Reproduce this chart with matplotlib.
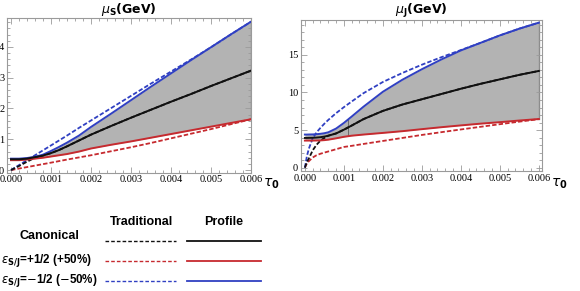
import matplotlib
matplotlib.use('Agg')
import matplotlib.pyplot as plt
from matplotlib.ticker import MultipleLocator, FormatStrFormatter
from matplotlib.lines import Line2D

plt.rcParams['lines.scale_dashes'] = False

# ---------------- data: mu_S (left panel) ----------------
tau_S = [0, 0.0002, 0.0004, 0.0006, 0.0008, 0.001, 0.0012, 0.0014, 0.0017,
         0.002, 0.0025, 0.003, 0.0035, 0.004, 0.0045, 0.005, 0.0055, 0.006]
muS_prof_can = [0.35, 0.35, 0.37, 0.42, 0.47, 0.55, 0.65, 0.77, 0.96,
                1.15, 1.43, 1.70, 1.96, 2.22, 2.47, 2.73, 2.98, 3.23]
muS_prof_up = [0.32, 0.32, 0.34, 0.37, 0.40, 0.44, 0.48, 0.52, 0.60,
               0.70, 0.82, 0.93, 1.05, 1.17, 1.29, 1.41, 1.53, 1.65]
muS_prof_dn = [0.37, 0.37, 0.39, 0.43, 0.50, 0.62, 0.75, 0.89, 1.12,
               1.40, 1.83, 2.27, 2.71, 3.14, 3.57, 3.99, 4.41, 4.82]
muS_trad_can = [0.0, 0.13, 0.27, 0.40, 0.47, 0.55, 0.65, 0.77, 0.96,
                1.15, 1.43, 1.70, 1.96, 2.22, 2.47, 2.73, 2.98, 3.23]
muS_trad_up = [0.0, 0.048, 0.096, 0.144, 0.192, 0.24, 0.29, 0.34, 0.41,
               0.48, 0.61, 0.74, 0.88, 1.03, 1.18, 1.33, 1.49, 1.65]
muS_trad_dn = [0.0, 0.16, 0.32, 0.48, 0.64, 0.80, 0.96, 1.12, 1.37,
               1.61, 2.01, 2.41, 2.81, 3.20, 3.59, 3.99, 4.41, 4.82]

# ---------------- data: mu_J (right panel) ----------------
tau_J = [0, 0.00005, 0.0001, 0.0002, 0.0003, 0.0004, 0.0005, 0.0006, 0.0008,
         0.001, 0.0012, 0.0015, 0.002, 0.0025, 0.003, 0.0035, 0.004,
         0.0045, 0.005, 0.0055, 0.006]
muJ_prof_can = [3.95, 3.95, 3.96, 3.97, 4.0, 4.05, 4.13, 4.25, 4.55,
                5.05, 5.6, 6.45, 7.55, 8.4, 9.1, 9.8, 10.5,
                11.15, 11.75, 12.35, 12.87]
muJ_prof_up = [3.6, 3.6, 3.6, 3.6, 3.61, 3.62, 3.66, 3.72, 3.9,
               4.1, 4.25, 4.4, 4.62, 4.85, 5.12, 5.38, 5.62,
               5.85, 6.05, 6.27, 6.47]
muJ_prof_dn = [4.4, 4.4, 4.41, 4.42, 4.45, 4.5, 4.58, 4.7, 5.2,
               5.95, 6.8, 8.1, 10.1, 11.7, 13.1, 14.4, 15.6,
               16.6, 17.6, 18.5, 19.3]
muJ_trad_can = [0.0, 0.75, 1.2, 2.3, 3.05, 3.6, 3.95, 4.25, 4.55,
                5.05, 5.6, 6.45, 7.55, 8.4, 9.1, 9.8, 10.5,
                11.15, 11.75, 12.35, 12.87]
muJ_trad_up = [0.0, 0.55, 0.85, 1.35, 1.65, 1.85, 2.0, 2.15, 2.45,
               2.75, 2.9, 3.15, 3.55, 3.95, 4.35, 4.72, 5.08,
               5.43, 5.78, 6.12, 6.45]
muJ_trad_dn = [0.0, 1.5, 2.5, 3.9, 4.7, 5.3, 5.85, 6.35, 7.25,
               8.05, 8.8, 9.9, 11.4, 12.6, 13.7, 14.7, 15.65,
               16.6, 17.6, 18.5, 19.3]
tau_J_seam = 0.00111

# ---------------- styles ----------------
BLACK = '#111111'
RED = '#c62a2f'
BLUE = '#3040c2'
FILL = '#b3b3b3'
FRAME = '#9a9a9a'
DASH = (0, (3.2, 1.5))
W = 580.0
H = 291.0

fig = plt.figure(figsize=(5.8, 2.91), dpi=100)
axL = fig.add_axes([7 / W, 1 - 172.5 / H, (251 - 7) / W, (172.5 - 18) / H])
axR = fig.add_axes([301 / W, 1 - 171 / H, (542 - 301) / W, (171 - 20) / H])


def style_axes(ax, ymaj, ymin):
    for s in ax.spines.values():
        s.set_color(FRAME)
        s.set_linewidth(0.8)
    ax.xaxis.set_major_locator(MultipleLocator(0.001))
    ax.xaxis.set_minor_locator(MultipleLocator(0.0002))
    ax.yaxis.set_major_locator(MultipleLocator(ymaj))
    ax.yaxis.set_minor_locator(MultipleLocator(ymin))
    ax.xaxis.set_major_formatter(FormatStrFormatter('%.3f'))
    ax.tick_params(which='both', direction='in', top=True, right=True,
                   color=FRAME, width=0.6, labelsize=7.5, pad=2)
    ax.tick_params(which='major', length=4)
    ax.tick_params(which='minor', length=2)
    for lab in ax.get_xticklabels() + ax.get_yticklabels():
        lab.set_fontfamily('Liberation Serif')


def draw_panel(ax, tau, can_p, up_p, dn_p, can_t, up_t, dn_t):
    ax.fill_between(tau, up_p, dn_p, color=FILL, linewidth=0, zorder=1)
    ax.plot([tau[-1], tau[-1]], [up_p[-1], dn_p[-1]], color='#8c8c8c',
            lw=1.0, zorder=1.5)
    ax.plot(tau, up_t, color=RED, lw=1.3, linestyle=DASH, zorder=2)
    ax.plot(tau, dn_t, color=BLUE, lw=1.3, linestyle=DASH, zorder=2)
    ax.plot(tau, can_t, color=BLACK, lw=1.3, linestyle=DASH, zorder=2)
    ax.plot(tau, up_p, color=RED, lw=1.4, zorder=3)
    ax.plot(tau, dn_p, color=BLUE, lw=1.4, zorder=3)
    ax.plot(tau, can_p, color=BLACK, lw=1.4, zorder=3)


draw_panel(axL, tau_S, muS_prof_can, muS_prof_up, muS_prof_dn,
           muS_trad_can, muS_trad_up, muS_trad_dn)
draw_panel(axR, tau_J, muJ_prof_can, muJ_prof_up, muJ_prof_dn,
           muJ_trad_can, muJ_trad_up, muJ_trad_dn)

# seam line in the right panel's band
axR.plot([tau_J_seam, tau_J_seam], [4.2, 6.45], color='#6a6a6a', lw=0.7,
         zorder=1.6)

axL.set_xlim(-0.0001, 0.006)
axL.set_ylim(-0.08, 4.94)
axR.set_xlim(-0.0001, 0.00608)
axR.set_ylim(-0.45, 19.65)
style_axes(axL, 1, 0.2)
style_axes(axR, 5, 1)

title_kw = dict(fontsize=9, fontweight='bold', family='DejaVu Sans')
axL.set_title(r'$\mu_{\mathbf{S}}$(GeV)', pad=3, **title_kw)
axR.set_title(r'$\mu_{\mathbf{J}}$(GeV)', pad=3, **title_kw)

fig.text(271 / W, 1 - 184 / H, r'$\tau_{\mathbf{0}}$', fontsize=10,
         ha='center', va='center')
fig.text(559 / W, 1 - 184 / H, r'$\tau_{\mathbf{0}}$', fontsize=10,
         ha='center', va='center')

# ---------------- legend table ----------------
lf = dict(fontweight='bold', family='Liberation Sans', va='center')
fig.text(142 / W, 1 - 222 / H, 'Traditional', ha='center', fontsize=9, **lf)
fig.text(224 / W, 1 - 222 / H, 'Profile', ha='center', fontsize=9, **lf)
fig.text(49 / W, 1 - 236 / H, 'Canonical', ha='center', fontsize=9, **lf)
fig.text(1 / W, 1 - 260 / H,
         r'$\epsilon_{\mathbf{S/J}}$=+1/2 (+50%)', ha='left', fontsize=8.4,
         **lf)
fig.text(1 / W, 1 - 280 / H,
         r'$\epsilon_{\mathbf{S/J}}$=$-$1/2 ($-$50%)', ha='left',
         fontsize=8.4, **lf)

rows = [(240.7, BLACK), (261, RED), (281, BLUE)]
for y, c in rows:
    yy = 1 - y / H
    fig.add_artist(Line2D([105 / W, 176 / W], [yy, yy], color=c, lw=1.0,
                          linestyle=(0, (2.6, 1.5))))
    fig.add_artist(Line2D([187 / W, 261 / W], [yy, yy], color=c, lw=1.3))

fig.savefig('out.png', dpi=100)
